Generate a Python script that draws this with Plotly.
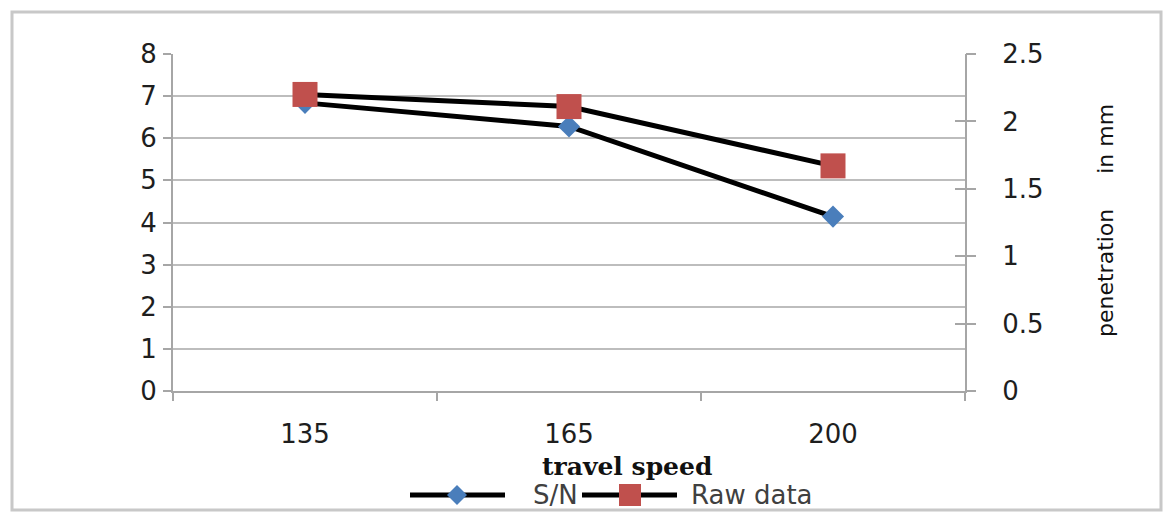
import plotly.graph_objects as go

# ---- data ----
speeds = ["135", "165", "200"]
sn_ratio = [6.84, 6.28, 4.14]          # S/N, left axis
raw_penetration = [2.20, 2.11, 1.67]   # Raw data (penetration in mm), right axis

left_ticks = [0, 1, 2, 3, 4, 5, 6, 7, 8]
right_ticks = [0, 0.5, 1, 1.5, 2, 2.5]
right_tick_text = ["0", "0.5", "1", "1.5", "2", "2.5"]

# ---- style ----
W, H = 1166, 512
BLUE = "#4a7ebb"
RED = "#c0504d"
GRID = "#bdbdbd"
AXIS = "#a6a6a6"
TXT = "#1e1e1e"
SANS = "DejaVu Sans"


def px(x):
    return x / W


def py(y):
    return 1 - y / H


fig = go.Figure()

fig.add_trace(go.Scatter(
    x=speeds, y=sn_ratio, name="S/N", mode="lines+markers",
    line=dict(color="black", width=5),
    marker=dict(symbol="diamond", size=17, color=BLUE),
    yaxis="y", showlegend=False,
))
fig.add_trace(go.Scatter(
    x=speeds, y=raw_penetration, name="Raw data", mode="lines+markers",
    line=dict(color="black", width=5),
    marker=dict(symbol="square", size=25, color=RED),
    yaxis="y2", showlegend=False,
))
# empty trace so the outer tick set of the right axis is drawn
fig.add_trace(go.Scatter(x=[], y=[], yaxis="y3", showlegend=False, hoverinfo="skip"))

x_dom = [px(173), px(965)]
y_dom = [py(391), py(54)]

fig.update_layout(
    width=W, height=H,
    margin=dict(l=0, r=0, t=0, b=0, pad=0, autoexpand=False),
    showlegend=False,
    paper_bgcolor="white", plot_bgcolor="white",
    font=dict(family=SANS, size=26, color=TXT),
    xaxis=dict(
        domain=x_dom, type="category", categoryorder="array", categoryarray=speeds,
        tickson="boundaries", ticks="outside", ticklen=8, tickwidth=2, tickcolor=AXIS,
        showline=True, linecolor=AXIS, linewidth=2, showgrid=False, zeroline=False,
        ticklabelstandoff=19, tickfont=dict(size=26, color=TXT),
        range=[-0.5, 2.5], automargin=False,
    ),
    yaxis=dict(
        domain=y_dom, range=[0, 8], tickvals=left_ticks,
        ticks="outside", ticklen=8, tickwidth=2, tickcolor=AXIS,
        showline=True, linecolor=AXIS, linewidth=2,
        showgrid=True, gridcolor=GRID, gridwidth=2, zeroline=False,
        tickfont=dict(size=26, color=TXT), ticklabelstandoff=1, automargin=False,
    ),
    yaxis2=dict(
        domain=y_dom, range=[0, 2.5], overlaying="y", side="right", anchor="x",
        tickvals=right_ticks, ticktext=right_tick_text,
        ticks="inside", ticklen=10, tickwidth=2, tickcolor=AXIS,
        showline=True, linecolor=AXIS, linewidth=2, showgrid=False, zeroline=False,
        tickfont=dict(size=26, color=TXT), ticklabelstandoff=30, automargin=False,
    ),
    yaxis3=dict(
        domain=y_dom, range=[0, 2.5], overlaying="y", side="right", anchor="x",
        tickvals=right_ticks, ticks="outside", ticklen=10, tickwidth=2, tickcolor=AXIS,
        showticklabels=False, showline=False, showgrid=False, zeroline=False,
        automargin=False,
    ),
)

shapes = []
# outer chart border
shapes.append(dict(type="rect", xref="paper", yref="paper",
                   x0=px(12), x1=px(1161), y0=py(510), y1=py(12),
                   line=dict(color="#c8c8c8", width=3), fillcolor="rgba(0,0,0,0)", layer="below"))

# legend keys
def legend_line(x0, x1, y):
    return dict(type="line", xref="paper", yref="paper", x0=px(x0), x1=px(x1),
                y0=py(y), y1=py(y), line=dict(color="black", width=5))

LEG_Y = 495
shapes.append(legend_line(410, 505, LEG_Y))
shapes.append(legend_line(582, 677, LEG_Y))
cx, r = 457, 10
shapes.append(dict(type="path", xref="paper", yref="paper",
                   path=(f"M {px(cx - r)} {py(LEG_Y)} L {px(cx)} {py(LEG_Y - r)} "
                         f"L {px(cx + r)} {py(LEG_Y)} L {px(cx)} {py(LEG_Y + r)} Z"),
                   fillcolor=BLUE, line=dict(width=0)))
sx, s = 630, 11
shapes.append(dict(type="rect", xref="paper", yref="paper",
                   x0=px(sx - s), x1=px(sx + s), y0=py(LEG_Y + s), y1=py(LEG_Y - s),
                   fillcolor=RED, line=dict(width=0)))
fig.update_layout(shapes=shapes)

annotations = [
    dict(text="S/N", x=px(531), y=py(LEG_Y), xref="paper", yref="paper",
         xanchor="left", yanchor="middle", showarrow=False,
         font=dict(family=SANS, size=26, color="#404040")),
    dict(text="Raw data", x=px(689), y=py(LEG_Y), xref="paper", yref="paper",
         xanchor="left", yanchor="middle", showarrow=False,
         font=dict(family=SANS, size=26, color="#404040")),
    dict(text="<b>travel speed</b>", x=px(627), y=py(466), xref="paper", yref="paper",
         xanchor="center", yanchor="middle", showarrow=False,
         font=dict(family="DejaVu Serif", size=25, color="#111111")),
    dict(text="penetration" + "\u00a0" * 5 + "in mm", x=px(1105), y=py(221),
         xref="paper", yref="paper", textangle=-90,
         xanchor="center", yanchor="middle", showarrow=False,
         font=dict(family=SANS, size=22, color="#111111")),
]
fig.update_layout(annotations=annotations)

fig.write_html("out.html")
